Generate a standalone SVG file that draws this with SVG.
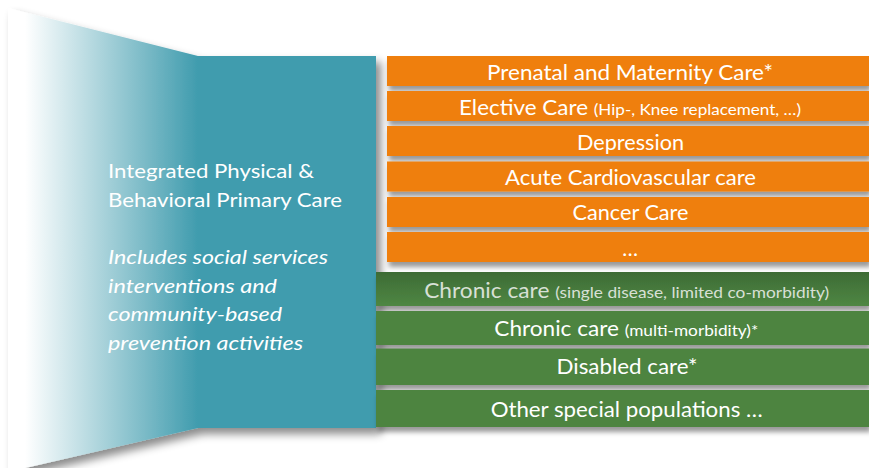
<svg xmlns="http://www.w3.org/2000/svg" width="869" height="468" viewBox="0 0 869 468">
  <defs>
    <linearGradient id="tealGrad" gradientUnits="userSpaceOnUse" x1="25" y1="0" x2="198" y2="0">
      <stop offset="0" stop-color="#ffffff"/>
      <stop offset="1" stop-color="#409CAE"/>
    </linearGradient>
    <linearGradient id="greenTop" x1="0" y1="0" x2="0" y2="1">
      <stop offset="0" stop-color="#3d6b35"/>
      <stop offset="1" stop-color="#4f8743"/>
    </linearGradient>
    <filter id="shadow" x="-5%" y="-10%" width="115%" height="170%">
      <feDropShadow dx="2" dy="5" stdDeviation="2.5" flood-color="#000" flood-opacity="0.4"/>
    </filter>
    <filter id="shadowBig" x="-5%" y="-5%" width="115%" height="120%">
      <feDropShadow dx="5" dy="6" stdDeviation="4" flood-color="#000" flood-opacity="0.45"/>
    </filter>
  </defs>
  <style>
    .orange { fill: #EF7F0B; }
    .green { fill: #4E8441; }
    .lbl { font-family: Lato, "Liberation Sans", sans-serif; font-size: 21px; fill: #ffffff; text-anchor: middle; }
    .sm { font-size: 16px; }
    .left { font-family: Lato, "Liberation Sans", sans-serif; font-size: 19.5px; fill: #ffffff; }
    .it { font-style: italic; }
  </style>
  <rect width="869" height="468" fill="#ffffff"/>

  <g id="primary-care">
    <polygon points="8,8 198,56 376,56 376,428 198,428 8,472" fill="url(#tealGrad)" filter="url(#shadowBig)"/>
    <text class="left" x="108" y="178" textLength="206" lengthAdjust="spacingAndGlyphs">Integrated Physical &amp;</text>
    <text class="left" x="108" y="207" textLength="234" lengthAdjust="spacingAndGlyphs">Behavioral Primary Care</text>
    <text class="left it" x="108" y="264" textLength="220" lengthAdjust="spacingAndGlyphs">Includes social services</text>
    <text class="left it" x="108" y="293" textLength="169" lengthAdjust="spacingAndGlyphs">interventions and</text>
    <text class="left it" x="108" y="321" textLength="174" lengthAdjust="spacingAndGlyphs">community-based</text>
    <text class="left it" x="108" y="350" textLength="195" lengthAdjust="spacingAndGlyphs">prevention activities</text>
  </g>

  <g id="prenatal">
    <rect class="orange" x="387" y="56" width="482" height="30" filter="url(#shadow)"/>
    <text class="lbl" x="630" y="80" textLength="286" lengthAdjust="spacingAndGlyphs">Prenatal and Maternity Care*</text>
  </g>
  <g id="elective">
    <rect class="orange" x="387" y="91" width="482" height="30" filter="url(#shadow)"/>
    <text class="lbl" x="630" y="115" textLength="342" lengthAdjust="spacingAndGlyphs">Elective Care <tspan class="sm">(Hip-, Knee replacement, …)</tspan></text>
  </g>
  <g id="depression">
    <rect class="orange" x="387" y="126" width="482" height="30" filter="url(#shadow)"/>
    <text class="lbl" x="630.5" y="150" textLength="107" lengthAdjust="spacingAndGlyphs">Depression</text>
  </g>
  <g id="cardio">
    <rect class="orange" x="387" y="161.5" width="482" height="30" filter="url(#shadow)"/>
    <text class="lbl" x="630.5" y="185" textLength="251" lengthAdjust="spacingAndGlyphs">Acute Cardiovascular care</text>
  </g>
  <g id="cancer">
    <rect class="orange" x="387" y="197" width="482" height="30" filter="url(#shadow)"/>
    <text class="lbl" x="630.5" y="220" textLength="116" lengthAdjust="spacingAndGlyphs">Cancer Care</text>
  </g>
  <g id="more-acute">
    <rect class="orange" x="387" y="232" width="482" height="30" filter="url(#shadow)"/>
    <text class="lbl" x="630" y="256">…</text>
  </g>

  <g id="chronic-single">
    <rect x="376" y="272" width="493" height="34" fill="url(#greenTop)" filter="url(#shadow)"/>
    <text class="lbl" x="626.7" y="298" textLength="405" lengthAdjust="spacingAndGlyphs" style="fill:#d8e0d6">Chronic care <tspan class="sm">(single disease, limited co-morbidity)</tspan></text>
  </g>
  <g id="chronic-multi">
    <rect class="green" x="376" y="311" width="493" height="34" filter="url(#shadow)"/>
    <text class="lbl" x="626.3" y="336" textLength="264" lengthAdjust="spacingAndGlyphs">Chronic care <tspan class="sm">(multi-morbidity)*</tspan></text>
  </g>
  <g id="disabled">
    <rect class="green" x="376" y="348.5" width="493" height="36.5" filter="url(#shadow)"/>
    <text class="lbl" x="627" y="374" textLength="141" lengthAdjust="spacingAndGlyphs">Disabled care*</text>
  </g>
  <g id="special">
    <rect class="green" x="376" y="390" width="493" height="37" filter="url(#shadow)"/>
    <text class="lbl" x="626.7" y="417" textLength="272" lengthAdjust="spacingAndGlyphs">Other special populations …</text>
  </g>
</svg>
